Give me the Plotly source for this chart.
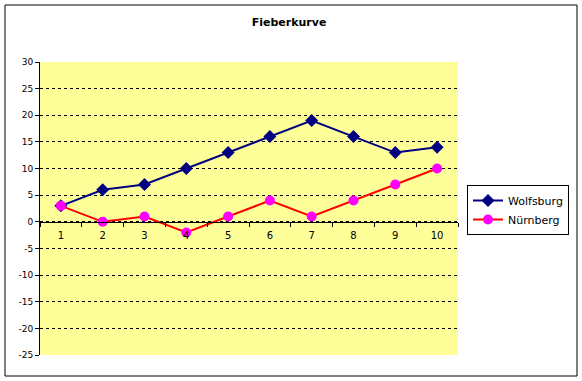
import plotly.graph_objects as go

categories = ["1", "2", "3", "4", "5", "6", "7", "8", "9", "10"]
wolfsburg = [3, 6, 7, 10, 13, 16, 19, 16, 13, 14]
nuernberg = [3, 0, 1, -2, 1, 4, 1, 4, 7, 10]
y_ticks = [-25, -20, -15, -10, -5, 0, 5, 10, 15, 20, 25, 30]
y_tick_labels = ["-25", "-20", "-15", "-10", "-5", "0", "5", "10", "15", "20", "25", "30"]

W, H = 582, 381
L, R, T, B = 40, 458, 62, 355
FONT = "DejaVu Sans"

fig = go.Figure()
fig.add_trace(go.Scatter(
    x=categories, y=wolfsburg, name="Wolfsburg", mode="lines+markers",
    line=dict(color="#000080", width=2),
    marker=dict(symbol="diamond", size=10, color="#000080"),
))
fig.add_trace(go.Scatter(
    x=categories, y=nuernberg, name="Nürnberg", mode="lines+markers",
    line=dict(color="#FF0000", width=2),
    marker=dict(symbol="circle", size=10, color="#FF00FF"),
))

pw = R - L
ph = B - T
fig.update_layout(
    width=W, height=H,
    margin=dict(l=L, r=W - R, t=T, b=H - B, pad=0, autoexpand=False),
    paper_bgcolor="white",
    plot_bgcolor="#FFFF99",
    font=dict(family=FONT, size=10, color="black"),
    title=dict(text="<b>Fieberkurve</b>", x=289 / W, xref="container", xanchor="center",
               y=1 - 22 / H, yref="container", yanchor="middle",
               font=dict(family=FONT, size=11, color="black")),
    xaxis=dict(
        type="category", range=[-0.5, 9.5], showgrid=False,
        showline=True, linecolor="black", linewidth=1,
        ticks="outside", ticklen=4, tickcolor="black", tickson="boundaries",
        anchor="free", position=25 / 55, ticklabelstandoff=4,
        tickfont=dict(family=FONT, size=10), zeroline=False,
    ),
    yaxis=dict(
        range=[-25, 30], tickvals=y_ticks, ticktext=y_tick_labels, showgrid=True,
        gridcolor="black", griddash="3px,3px", gridwidth=1,
        showline=True, linecolor="black", linewidth=1,
        ticks="outside", ticklen=4, tickcolor="black",
        zeroline=False, tickfont=dict(family=FONT, size=9),
    ),
    legend=dict(
        x=(467 - L) / pw, y=(B - 185) / ph, xanchor="left", yanchor="top",
        bordercolor="black", borderwidth=1, bgcolor="white",
        font=dict(family=FONT, size=11), itemwidth=30,
    ),
    shapes=[dict(
        type="rect", xref="paper", yref="paper",
        x0=(5 - L) / pw, x1=(577 - L) / pw,
        y0=(B - 376) / ph, y1=(B - 5) / ph,
        line=dict(color="black", width=1), fillcolor="rgba(0,0,0,0)", layer="below",
    )],
)

fig.write_html("out.html", config={"displayModeBar": False},
               post_script="document.body.style.margin='0';document.body.style.padding='0';")
